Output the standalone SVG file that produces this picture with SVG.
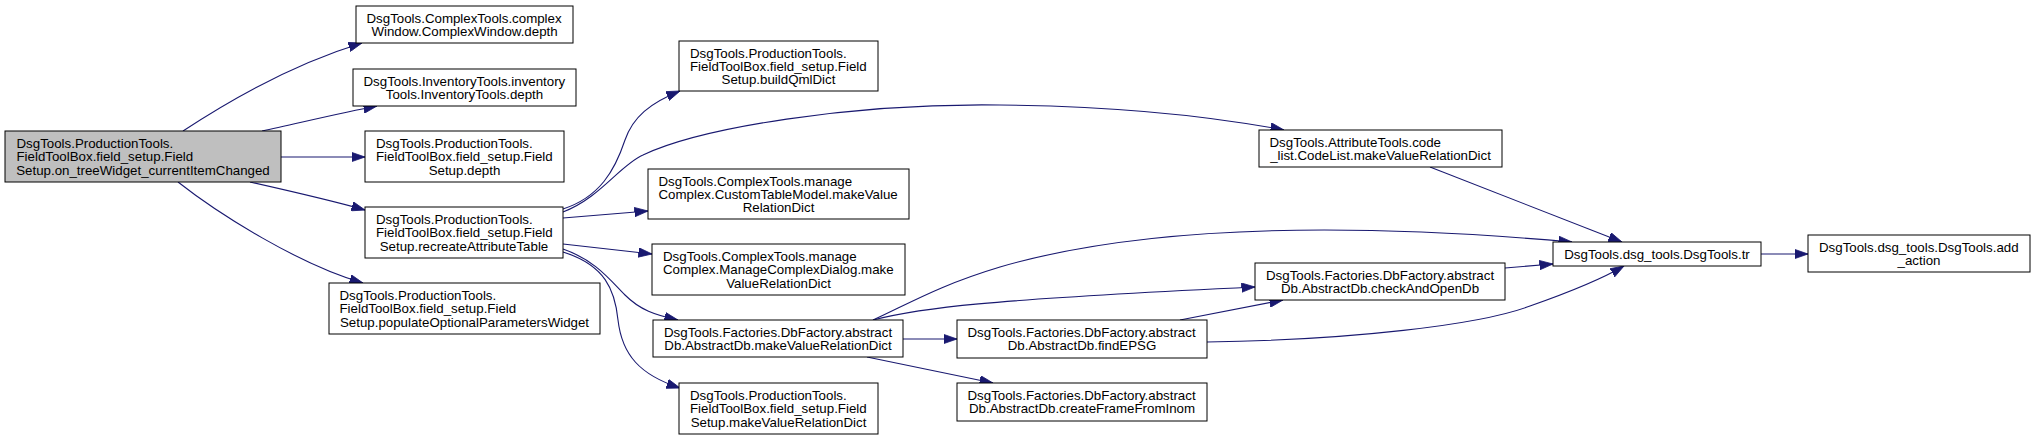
<svg xmlns="http://www.w3.org/2000/svg" width="2035" height="440" viewBox="0 0 2035 440">
<style>
.n rect{fill:#ffffff;stroke:#000000;stroke-width:1}
.root rect{fill:#bfbfbf}
.n text{font-family:"Liberation Sans",Arial,Helvetica,sans-serif;font-size:13.3px;fill:#000000}
.m{text-anchor:middle}
.s{text-anchor:start}
.e path{fill:none;stroke:#191970;stroke-width:1.1;marker-end:url(#ah)}
</style>
<defs>
<marker id="ah" markerUnits="userSpaceOnUse" markerWidth="14" markerHeight="10" viewBox="0 0 14 10" refX="13.5" refY="5" orient="auto">
<path d="M0,0.3 L13.5,5 L0,9.7 z" fill="#191970" stroke="#191970" stroke-width="0.8"/>
</marker>
</defs>
<rect width="2035" height="440" fill="#ffffff"/>
<g id="edges" class="e">
<path d="M183,131 C230,100 290,65 362,43"/>
<path d="M262,131 C295,124 340,113 377,106"/>
<path d="M281,157 L365,157"/>
<path d="M250,182 C290,191 330,200 365,210"/>
<path d="M178,182 C220,215 300,265 363,283"/>
<path d="M563,209 C600,197 615,170 625,140 C633,117 650,103 680,91"/>
<path d="M563,212 C600,198 620,165 643,155 C700,128 850,103 1000,105 C1130,106 1220,118 1284,130"/>
<path d="M563,218 L648,211"/>
<path d="M563,244 L652,254"/>
<path d="M563,249 C595,260 610,280 625,295 C640,310 655,315 678,320"/>
<path d="M563,252 C605,265 615,290 618,320 C622,355 640,375 680,388"/>
<path d="M873,320 C910,303 940,285 1000,267 C1120,232 1300,218 1572,242"/>
<path d="M873,320 C920,308 980,300 1255,287"/>
<path d="M903,339 L957,339"/>
<path d="M867,357 L993,383"/>
<path d="M1180,320 L1283,300"/>
<path d="M1207,342 C1350,340 1480,325 1530,306 C1570,292 1600,280 1624,266"/>
<path d="M1505,268 L1553,264"/>
<path d="M1430,167 L1622,242"/>
<path d="M1761,254 L1808,254"/>
</g>
<g id="n_root" class="n root">
<rect x="5" y="131" width="276" height="51"/>
<text class="s" x="16.5" y="148">DsgTools.ProductionTools.</text>
<text class="s" x="16.5" y="161.3">FieldToolBox.field_setup.Field</text>
<text class="m" x="143" y="174.6">Setup.on_treeWidget_currentItemChanged</text>
</g>
<g id="n_complexwindow_depth" class="n">
<rect x="356" y="6" width="217" height="37"/>
<text class="s" x="366.5" y="22.5">DsgTools.ComplexTools.complex</text>
<text class="m" x="464.5" y="35.8">Window.ComplexWindow.depth</text>
</g>
<g id="n_inventorytools_depth" class="n">
<rect x="353" y="69" width="223" height="37"/>
<text class="s" x="363.5" y="85.5">DsgTools.InventoryTools.inventory</text>
<text class="m" x="464.5" y="98.8">Tools.InventoryTools.depth</text>
</g>
<g id="n_fieldsetup_depth" class="n">
<rect x="365" y="131" width="199" height="51"/>
<text class="s" x="376" y="148">DsgTools.ProductionTools.</text>
<text class="s" x="376" y="161.3">FieldToolBox.field_setup.Field</text>
<text class="m" x="464.5" y="174.6">Setup.depth</text>
</g>
<g id="n_recreate" class="n">
<rect x="365" y="207" width="198" height="51"/>
<text class="s" x="376" y="224">DsgTools.ProductionTools.</text>
<text class="s" x="376" y="237.3">FieldToolBox.field_setup.Field</text>
<text class="m" x="464" y="250.6">Setup.recreateAttributeTable</text>
</g>
<g id="n_populate" class="n">
<rect x="329" y="283" width="271" height="51"/>
<text class="s" x="339.5" y="300">DsgTools.ProductionTools.</text>
<text class="s" x="339.5" y="313.3">FieldToolBox.field_setup.Field</text>
<text class="m" x="464.5" y="326.6">Setup.populateOptionalParametersWidget</text>
</g>
<g id="n_buildqmldict" class="n">
<rect x="679" y="41" width="199" height="50"/>
<text class="s" x="690" y="57.5">DsgTools.ProductionTools.</text>
<text class="s" x="690" y="70.8">FieldToolBox.field_setup.Field</text>
<text class="m" x="778.5" y="84.1">Setup.buildQmlDict</text>
</g>
<g id="n_customtablemodel" class="n">
<rect x="648" y="169" width="261" height="50"/>
<text class="s" x="658.5" y="185.5">DsgTools.ComplexTools.manage</text>
<text class="s" x="658.5" y="198.8">Complex.CustomTableModel.makeValue</text>
<text class="m" x="778.5" y="212.1">RelationDict</text>
</g>
<g id="n_managecomplexdialog" class="n">
<rect x="652" y="244" width="253" height="51"/>
<text class="s" x="663" y="261">DsgTools.ComplexTools.manage</text>
<text class="s" x="663" y="274.3">Complex.ManageComplexDialog.make</text>
<text class="m" x="778.5" y="287.6">ValueRelationDict</text>
</g>
<g id="n_abstractdb_makevaluerelationdict" class="n">
<rect x="653" y="320" width="250" height="37"/>
<text class="s" x="664" y="336.5">DsgTools.Factories.DbFactory.abstract</text>
<text class="m" x="778" y="349.8">Db.AbstractDb.makeValueRelationDict</text>
</g>
<g id="n_fieldsetup_makevaluerelationdict" class="n">
<rect x="679" y="383" width="199" height="51"/>
<text class="s" x="690" y="400">DsgTools.ProductionTools.</text>
<text class="s" x="690" y="413.3">FieldToolBox.field_setup.Field</text>
<text class="m" x="778.5" y="426.6">Setup.makeValueRelationDict</text>
</g>
<g id="n_codelist" class="n">
<rect x="1259" y="130" width="243" height="37"/>
<text class="s" x="1269.5" y="146.5">DsgTools.AttributeTools.code</text>
<text class="m" x="1380.5" y="159.8">_list.CodeList.makeValueRelationDict</text>
</g>
<g id="n_findepsg" class="n">
<rect x="957" y="320" width="250" height="38"/>
<text class="s" x="967.5" y="337">DsgTools.Factories.DbFactory.abstract</text>
<text class="m" x="1082" y="350.3">Db.AbstractDb.findEPSG</text>
</g>
<g id="n_createframefrominom" class="n">
<rect x="957" y="383" width="250" height="38"/>
<text class="s" x="967.5" y="400">DsgTools.Factories.DbFactory.abstract</text>
<text class="m" x="1082" y="413.3">Db.AbstractDb.createFrameFromInom</text>
</g>
<g id="n_checkandopendb" class="n">
<rect x="1255" y="263" width="250" height="37"/>
<text class="s" x="1266" y="279.5">DsgTools.Factories.DbFactory.abstract</text>
<text class="m" x="1380" y="292.8">Db.AbstractDb.checkAndOpenDb</text>
</g>
<g id="n_tr" class="n">
<rect x="1553" y="242" width="208" height="24"/>
<text class="m" x="1657" y="258.6">DsgTools.dsg_tools.DsgTools.tr</text>
</g>
<g id="n_add_action" class="n">
<rect x="1808" y="235" width="222" height="37"/>
<text class="s" x="1819" y="251.5">DsgTools.dsg_tools.DsgTools.add</text>
<text class="m" x="1919" y="264.8">_action</text>
</g>
</svg>
